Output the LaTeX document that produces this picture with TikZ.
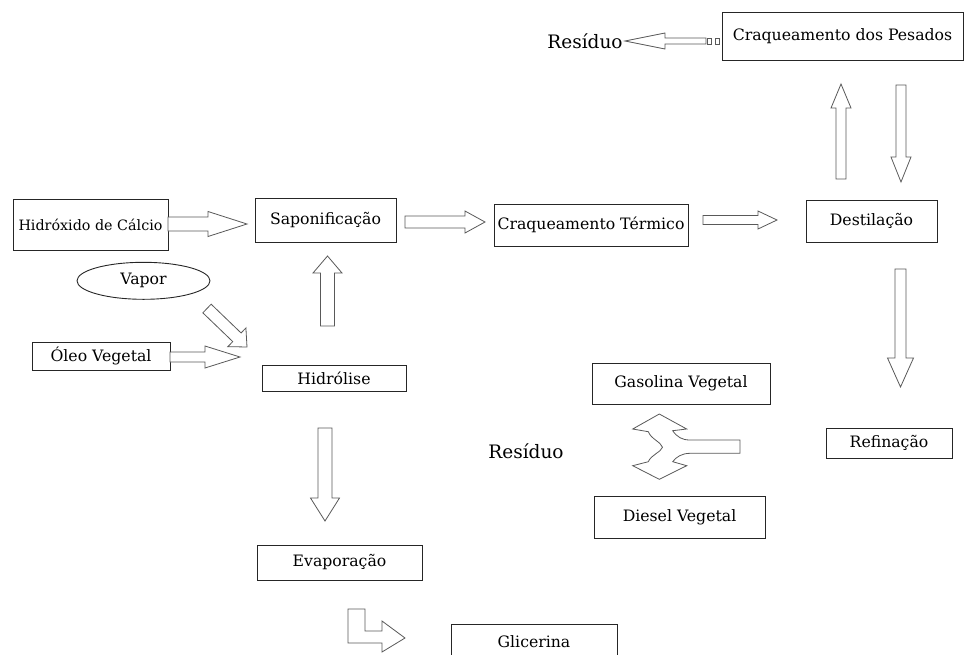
\documentclass[tikz,border=0pt]{standalone}
\usepackage{fontspec}
\setmainfont{DejaVu Serif}
\usetikzlibrary{shapes.geometric}

% block arrow: tail centre (#1,#2), direction #3, length #4,
% shaft half width #5, head half width #6, head length #7
\newcommand\blockarrow[7]{%
  \draw[blk, shift={(#1,#2)}, rotate=#3]
    (0,#5) -- ({#4-#7},#5) -- ({#4-#7},#6) -- (#4,0)
    -- ({#4-#7},-#6) -- ({#4-#7},-#5) -- (0,-#5) -- cycle;}

\begin{document}
\begin{tikzpicture}[x=1pt,y=-1pt,
  box/.style={draw=black!85, line width=0.9pt, inner sep=0pt, font=\fontsize{15.7}{18}\selectfont},
  blk/.style={draw=black!65, line width=0.8pt, fill=white, line join=miter},
  lbl/.style={inner sep=0pt, font=\fontsize{18.5}{22}\selectfont}]
\useasboundingbox (0,0) rectangle (964,654);

% process boxes
\node[box, minimum width=241, minimum height=48] (pesados) at (842.5,36) {Craqueamento dos Pesados};
\node[box, minimum width=155, minimum height=51, font=\fontsize{14.3}{16}\selectfont] (hidrox) at (90.5,224.5) {Hidróxido de Cálcio};
\node[box, minimum width=141, minimum height=44] (sapon) at (325.5,220) {Saponificação};
\node[box, ellipse, minimum width=133, minimum height=37] (vapor) at (143.5,280.8) {Vapor};
\node[box, minimum width=138, minimum height=28] (oleo) at (101,356) {Óleo Vegetal};
\node[box, minimum width=144, minimum height=26] (hidrol) at (334,378) {Hidrólise};
\node[box, minimum width=194, minimum height=42] (craqT) at (591,225) {Craqueamento Térmico};
\node[box, minimum width=131, minimum height=42] (dest) at (871.5,221) {Destilação};
\node[box, minimum width=126, minimum height=30] (refin) at (889,443) {Refinação};
\node[box, minimum width=178, minimum height=41] (gasol) at (681,383.5) {Gasolina Vegetal};
\node[box, minimum width=171, minimum height=42] (diesel) at (679.5,517) {Diesel Vegetal};
\node[box, minimum width=165, minimum height=35] (evap) at (339.5,562.5) {Evaporação};
\node[box, minimum width=166, minimum height=36] (glic) at (534,642) {Glicerina};

% free labels
\node[lbl] (res1) at (585,41) {Resíduo};
\node[lbl] (res2) at (526,451) {Resíduo};

% straight block arrows
\blockarrow{168}{224}{0}{79}{7}{12.5}{39}
\blockarrow{207}{308.5}{-43.9}{55.5}{6}{13}{14}
\blockarrow{170}{357}{0}{70}{5}{11}{35}
\blockarrow{327.5}{326}{90}{70}{7}{14.5}{17}
\blockarrow{405}{222}{0}{80}{6}{11}{20}
\blockarrow{703}{220}{0}{74}{4.5}{9}{19}
\blockarrow{841}{179}{90}{95}{5}{10}{24}
\blockarrow{901}{85}{-90}{97}{5}{10}{25}
\blockarrow{900.5}{269}{-90}{118}{5.5}{13}{29}
\blockarrow{325}{428}{-90}{93}{7}{14.5}{23}
\blockarrow{706}{41}{180}{81}{3}{8}{40}

% dashed tail of the residue arrow
\draw[blk] (707.7,38) rectangle (711.7,44);
\draw[blk] (715,38) rectangle (719,44);

% split arrow between gasoline and diesel
\draw[blk] (632.7,429) -- (659.3,414) -- (686.7,429) -- (672.7,430.7)
  .. controls (677,437) and (682,440) .. (690,440) -- (740,440) -- (740,453.3)
  -- (690,453.3) .. controls (682,453.3) and (676,457) .. (672.7,461.7)
  -- (686.7,465.7) -- (659.3,479.3) -- (632.7,465.7) -- (648.3,461.7)
  .. controls (651,455) and (661,452) .. (662.5,447.3)
  .. controls (661,442) and (651,439) .. (648.3,431.7) -- cycle;

% bent arrow towards glycerine
\draw[blk] (348,609) -- (365,609) -- (365,631) -- (382,631) -- (382,621)
  -- (405,638) -- (382,652) -- (382,643) -- (348,643) -- cycle;
\end{tikzpicture}
\end{document}
